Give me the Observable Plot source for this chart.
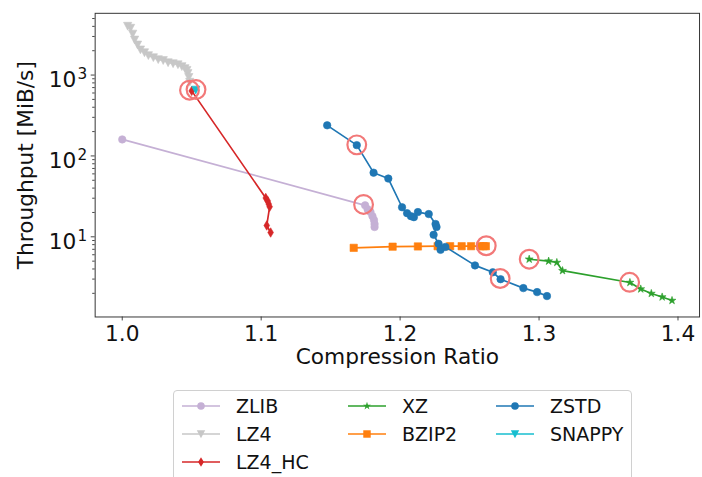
<!DOCTYPE html>
<html><head><meta charset="utf-8">
<script src="https://cdn.jsdelivr.net/npm/d3@7"></script>
<script src="https://cdn.jsdelivr.net/npm/@observablehq/plot@0.6"></script>
<style>
body{margin:0;background:#fff;font-family:"DejaVu Sans",sans-serif;}
#wrap{position:relative;width:702px;height:477px;overflow:hidden;background:#fff;}
#topline{position:absolute;left:0;top:5px;width:702px;height:1px;background:#9a9a9a;}
#chart{position:absolute;left:0;top:0;}
#legend{position:absolute;left:173px;top:390px;width:457px;height:100px;border:1px solid #d0d0d0;border-radius:4px;background:#fff;}
.entry{position:absolute;height:28px;display:flex;align-items:center;font-size:19px;color:#111;}
.entry svg{margin-right:15px;}
</style></head>
<body>
<div id="wrap"><div id="topline"></div><div id="chart"></div><div id="legend"></div></div>
<script>
// ---- data ----
const zlibX = [1.0, 1.1748, 1.1766, 1.1787, 1.1801, 1.1812, 1.1816, 1.1816];
const zlibY = [160, 24.5, 21.9, 20.2, 18.0, 16.1, 14.4, 13.2];

const lz4X = [1.0039, 1.0060, 1.0075, 1.0089, 1.0110, 1.0131, 1.0160, 1.0188, 1.0224, 1.0259, 1.0295, 1.0330, 1.0366, 1.0401, 1.0429, 1.0451, 1.0465, 1.0472, 1.0479, 1.0486];
const lz4Y = [4040, 3820, 3230, 2730, 2370, 2060, 1900, 1750, 1650, 1560, 1520, 1430, 1390, 1350, 1280, 1210, 1150, 1050, 940, 820];

const lz4hcX = [1.0500, 1.1033, 1.1047, 1.1054, 1.1061, 1.1040, 1.1068];
const lz4hcY = [637, 30.2, 27.8, 25.5, 23.5, 13.8, 11.3];

const xzX = [1.2929, 1.3069, 1.3128, 1.3169, 1.3654, 1.3732, 1.3808, 1.3886, 1.3957];
const xzY = [5.28, 5.00, 4.81, 3.81, 2.72, 2.26, 1.99, 1.80, 1.63];

const bzip2X = [1.1666, 1.1946, 1.2128, 1.2270, 1.2360, 1.2443, 1.2511, 1.2578, 1.2601, 1.2617];
const bzip2Y = [7.3, 7.55, 7.6, 7.65, 7.65, 7.65, 7.65, 7.65, 7.65, 7.65];

const zstdX = [1.1475, 1.1688, 1.1809, 1.1915, 1.2014, 1.2050, 1.2078, 1.2099, 1.2128, 1.2206, 1.2255, 1.2262, 1.2241, 1.2277, 1.2291, 1.2326, 1.2539, 1.2667, 1.2723, 1.2887, 1.2986, 1.3057];
const zstdY = [239, 136, 62.1, 52.5, 23.2, 19.6, 18.0, 17.5, 20.2, 19.1, 14.4, 13.2, 10.6, 8.2, 6.9, 7.5, 4.43, 3.64, 2.99, 2.32, 2.07, 1.85];

const snappyX = [1.0529];
const snappyY = [656];

const hiX = [1.0484, 1.0531, 1.1688, 1.1737, 1.2620, 1.2720, 1.2929, 1.3652];
const hiY = [650, 662, 137, 25.1, 7.75, 3.05, 5.28, 2.74];

const seriesNames = ["ZLIB", "LZ4", "LZ4_HC", "XZ", "BZIP2", "ZSTD", "SNAPPY"];
const seriesColors = ["#c5b0d5", "#c7c7c7", "#d62728", "#2ca02c", "#ff7f0e", "#1f77b4", "#17becf"];

const xTicks = [1.0, 1.1, 1.2, 1.3, 1.4];
const yMajor = [10, 100, 1000];
const ySup = ["1", "2", "3"];

// ---- custom marker shapes ----
const triDown = {draw(ctx, size) { const r = Math.sqrt(size / Math.PI); ctx.moveTo(0, r); ctx.lineTo(-r, -r * 0.9); ctx.lineTo(r, -r * 0.9); ctx.closePath(); }};
const thinDiamond = {draw(ctx, size) { const r = Math.sqrt(size / Math.PI); ctx.moveTo(0, -r); ctx.lineTo(0.6 * r, 0); ctx.lineTo(0, r); ctx.lineTo(-0.6 * r, 0); ctx.closePath(); }};

const series = [
  {name: "ZLIB", xs: zlibX, ys: zlibY, symbol: d3.symbolCircle, r: 3.8, lw: 1.7},
  {name: "LZ4", xs: lz4X, ys: lz4Y, symbol: triDown, r: 4.2, lw: 1.7},
  {name: "LZ4_HC", xs: lz4hcX, ys: lz4hcY, symbol: thinDiamond, r: 4.8, lw: 1.7},
  {name: "XZ", xs: xzX, ys: xzY, symbol: d3.symbolStar, r: 2.5, lw: 1.7},
  {name: "BZIP2", xs: bzip2X, ys: bzip2Y, symbol: d3.symbolSquare, r: 4.2, lw: 1.7},
  {name: "ZSTD", xs: zstdX, ys: zstdY, symbol: d3.symbolCircle, r: 3.8, lw: 1.7},
  {name: "SNAPPY", xs: snappyX, ys: snappyY, symbol: triDown, r: 4.2, lw: 1.7}
];
series.forEach((s, i) => { s.color = seriesColors[i]; s.rows = s.xs.map((x, j) => ({x, y: s.ys[j]})); });

const minor = [];
for (const e of [1, 10, 100, 1000]) for (let k = 2; k <= 9; k++) { const v = k * e; if (v >= 1.02 && v <= 5800) minor.push(v); }
const hiRows = hiX.map((x, j) => ({x, y: hiY[j]}));

const marks = [
  Plot.axisY(minor, {tickSize: 2.5, tickFormat: () => "", label: null, stroke: "#444"}),
  Plot.axisY(yMajor, {tickSize: 4, tickFormat: () => "", label: null, stroke: "#444"}),
  Plot.text(yMajor, {y: d => d, frameAnchor: "left", text: () => "10", dx: -19, dy: 12, textAnchor: "end", lineAnchor: "bottom", fontSize: 22, fill: "#111"}),
  Plot.text(yMajor, {y: d => d, frameAnchor: "left", text: (d, i) => ySup[i], dx: -8, dy: 4, textAnchor: "end", lineAnchor: "bottom", fontSize: 15.5, fill: "#111"}),
  Plot.axisX(xTicks, {tickSize: 4, tickPadding: 5, fontSize: 22, tickFormat: d => d.toFixed(1), label: null, stroke: "#444", fill: "#111"}),
  Plot.text(["Throughput [MiB/s]"], {frameAnchor: "left", dx: -70, rotate: -90, textAnchor: "middle", lineAnchor: "middle", fontSize: 22, fill: "#111"}),
  Plot.text(["Compression Ratio"], {frameAnchor: "bottom", dy: 48, textAnchor: "middle", lineAnchor: "bottom", fontSize: 22, fill: "#111"})
];
for (const s of series) {
  marks.push(Plot.line(s.rows, {x: "x", y: "y", stroke: s.color, strokeWidth: s.lw}));
  marks.push(Plot.dot(s.rows, {x: "x", y: "y", symbol: () => s.symbol, r: s.r, fill: s.color, stroke: s.color, strokeWidth: 0.6}));
}
marks.push(Plot.dot(hiRows, {x: "x", y: "y", r: 9.5, stroke: "#f27878", strokeWidth: 2.2, fill: "none"}));
marks.push(Plot.frame({stroke: "#333", strokeWidth: 1}));

const chart = Plot.plot({
  width: 712, height: 390,
  marginLeft: 96, marginRight: 3, marginTop: 13, marginBottom: 69,
  x: {domain: [0.9805, 1.4155], label: null},
  y: {type: "log", domain: [1.02, 5800], label: null},
  symbol: {type: "identity"},
  style: {fontFamily: "'DejaVu Sans', sans-serif", fontSize: "22px", color: "#111", background: "white"},
  marks
});
document.getElementById("chart").appendChild(chart);

// ---- legend ----
const legend = d3.select("#legend");
const cols = [[0, 1, 2], [3, 4], [5, 6]];
const colX = [7, 173, 321];
const rowY = [1, 29, 57];
cols.forEach((col, ci) => col.forEach((si, ri) => {
  const s = series[si];
  const e = legend.append("div").attr("class", "entry").style("left", colX[ci] + "px").style("top", rowY[ri] + "px");
  const svg = e.append("svg").attr("width", 40).attr("height", 20);
  svg.append("line").attr("x1", 1).attr("x2", 39).attr("y1", 10).attr("y2", 10).attr("stroke", s.color).attr("stroke-width", s.lw);
  svg.append("path").attr("transform", "translate(20,10)").attr("d", d3.symbol(s.symbol, Math.PI * s.r * s.r)()).attr("fill", s.color);
  e.append("span").text(s.name);
}));
</script>
</body></html>
